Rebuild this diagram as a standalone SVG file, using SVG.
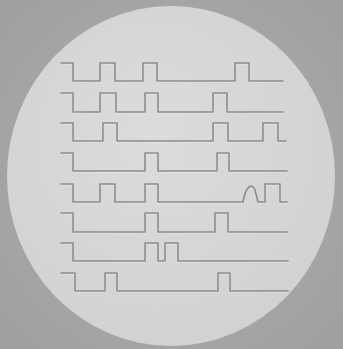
<svg xmlns="http://www.w3.org/2000/svg" width="343" height="349" viewBox="0 0 343 349">
<style>
.w{fill:none;stroke:#8c8c8c;stroke-width:1.6;stroke-linejoin:round;stroke-linecap:round}
.h{fill:none;stroke:#ececec;stroke-width:1;stroke-linejoin:round;opacity:0.8}
</style>
<defs>
<radialGradient id="bg" cx="0.5" cy="0.5" r="0.75">
<stop offset="0" stop-color="#b0b0b0"/>
<stop offset="1" stop-color="#9e9e9e"/>
</radialGradient>
<radialGradient id="disc" cx="0.45" cy="0.4" r="0.6">
<stop offset="0" stop-color="#dcdcdc"/>
<stop offset="1" stop-color="#d2d2d2"/>
</radialGradient>
</defs>
<rect width="343" height="349" fill="url(#bg)"/>
<ellipse cx="171" cy="176" rx="164" ry="170" fill="url(#disc)"/>
<g id="rows">
<g id="r1"><path class="h" d="M61,64 L73,64 L73,82 L100,82 L100,64 L115,64 L115,82 L143,82 L143,64 L157,64 L157,82 L235,82 L235,64 L249,64 L249,82 L283,82"/><path class="w" d="M61,63 L73,63 L73,81 L100,81 L100,63 L115,63 L115,81 L143,81 L143,63 L157,63 L157,81 L235,81 L235,63 L249,63 L249,81 L283,81"/></g>
<g id="r2"><path class="h" d="M61,94 L73,94 L73,113 L100,113 L100,94 L116,94 L116,113 L145,113 L145,94 L158,94 L158,113 L213,113 L213,94 L227,94 L227,113 L283,113"/><path class="w" d="M61,93 L73,93 L73,112 L100,112 L100,93 L116,93 L116,112 L145,112 L145,93 L158,93 L158,112 L213,112 L213,93 L227,93 L227,112 L283,112"/></g>
<g id="r3"><path class="h" d="M61,124 L73,124 L73,142 L103,142 L103,124 L117,124 L117,142 L213,142 L213,124 L228,124 L228,142 L263,142 L263,124 L278,124 L278,142 L286,142"/><path class="w" d="M61,123 L73,123 L73,141 L103,141 L103,123 L117,123 L117,141 L213,141 L213,123 L228,123 L228,141 L263,141 L263,123 L278,123 L278,141 L286,141"/></g>
<g id="r4"><path class="h" d="M61,154 L73,154 L73,172 L145,172 L145,154 L158,154 L158,172 L217,172 L217,154 L229,154 L229,172 L287,172"/><path class="w" d="M61,153 L73,153 L73,171 L145,171 L145,153 L158,153 L158,171 L217,171 L217,153 L229,153 L229,171 L287,171"/></g>
<g id="r5"><path class="h" d="M61,185 L73,185 L73,203 L100,203 L100,185 L115,185 L115,203 L145,203 L145,185 L158,185 L158,203 L243,203 C246,186 252,184 255,191 L258,203 L265,203 L265,185 L280,185 L280,203 L287,203"/><path class="w" d="M61,184 L73,184 L73,202 L100,202 L100,184 L115,184 L115,202 L145,202 L145,184 L158,184 L158,202 L243,202 C246,185 252,183 255,190 L258,202 L265,202 L265,184 L280,184 L280,202 L287,202"/></g>
<g id="r6"><path class="h" d="M61,214 L73,214 L73,233 L145,233 L145,214 L158,214 L158,233 L215,233 L215,214 L228,214 L228,233 L287,233"/><path class="w" d="M61,213 L73,213 L73,232 L145,232 L145,213 L158,213 L158,232 L215,232 L215,213 L228,213 L228,232 L287,232"/></g>
<g id="r7"><path class="h" d="M61,244 L73,244 L73,262 L145,262 L145,244 L158,244 L158,262 L165,262 L165,244 L178,244 L178,262 L288,262"/><path class="w" d="M61,243 L73,243 L73,261 L145,261 L145,243 L158,243 L158,261 L165,261 L165,243 L178,243 L178,261 L288,261"/></g>
<g id="r8"><path class="h" d="M61,274 L75,274 L75,292 L105,292 L105,274 L117,274 L117,292 L218,292 L218,274 L230,274 L230,292 L288,292"/><path class="w" d="M61,273 L75,273 L75,291 L105,291 L105,273 L117,273 L117,291 L218,291 L218,273 L230,273 L230,291 L288,291"/></g>
</g>
</svg>
